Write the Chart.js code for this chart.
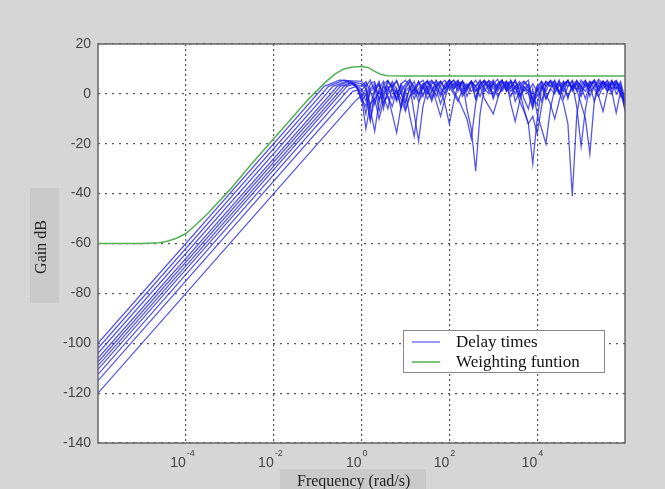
<!DOCTYPE html>
<html>
<head>
<meta charset="utf-8">
<script src="https://cdn.jsdelivr.net/npm/chart.js@4.4.1/dist/chart.umd.min.js"></script>
<style>
  body { margin: 0; background: #d6d6d6; }
  canvas { display: block; }
</style>
</head>
<body>
<canvas id="gainChart" width="665" height="489"></canvas>
<script>
// x values are log10 of the frequency (rad/s), y values are gain in dB
var xTicks = [-4, -2, 0, 2, 4];
var yTicks = [20, 0, -20, -40, -60, -80, -100, -120, -140];

// weighting function
var weightX = [-6, -5, -4.6, -4.4, -4.2, -4.0, -3.8, -3.5, -3.0, -2.5, -2.0, -1.5, -1.2, -1.0, -0.8, -0.6, -0.4, -0.2, 0, 0.15, 0.3, 0.45, 0.6, 1.0, 6.0];
var weightY = [-60, -60, -59.7, -59, -57.8, -56, -53, -48, -38.5, -28, -18, -8, -2, 1.5, 5, 8, 10, 10.8, 11, 10.6, 9, 7.8, 7.3, 7.2, 7.2];

// delay time responses: value at 10^-6, knee points, then the ripple part
var delayStart = [-100, -102, -104, -106, -107.5, -109, -110.5, -112.5, -115, -120];
var delayKneeX = [[-0.85, -0.5], [-0.75, -0.4], [-0.65, -0.35], [-0.55, -0.3], [-0.48, -0.25],
                  [-0.4, -0.2], [-0.33, -0.15], [-0.28, -0.12], [-0.2, -0.08], [-0.15, -0.05]];
var delayKneeY = [[3, 5.5], [3, 5.5], [3, 5], [3, 5], [3, 4.5],
                  [3, 4.5], [3, 4], [2, 3], [1, 1.5], [-3, -1.5]];

var hiX = [0, 0.1, 0.2, 0.3, 0.4, 0.5, 0.6, 0.7, 0.8, 0.9,
           1, 1.1, 1.2, 1.3, 1.4, 1.5, 1.6, 1.7, 1.8, 1.9,
           2, 2.1, 2.2, 2.3, 2.4, 2.5, 2.6, 2.7, 2.8, 2.9,
           3, 3.1, 3.2, 3.3, 3.4, 3.5, 3.6, 3.7, 3.8, 3.9,
           4, 4.1, 4.2, 4.3, 4.4, 4.5, 4.6, 4.7, 4.8, 4.9,
           5, 5.1, 5.2, 5.3, 5.4, 5.5, 5.6, 5.7, 5.8, 5.9, 6];

var delayHi = [
  [5,3,5.5,1,4,-2,5,2.5,5.5,1, 4,5.8,2,5,-1,4,5.5,3,5,2, 5.5,4,1,5,-6,-14,-31,-8,3,5.5,
   4,5.8,2,5,3,5.5,1,4,5.5,-4, 2,5,3,5.5,4,0,5,3,5.5,2, 4,5.5,-1,3,5.8,4,1,5,2,4, -7],
  [4,2,-6,-15,-3,4,5.5,2,-2,4, 5.5,3,0,5,2,5.5,3,-1,4,5.5, 2,4,5.5,1,3,5,-2,4,5.5,3,
   0,4,5.5,2,5,-3,1,-6,-12,-28, -10,2,5,3,5.5,1,4,5.5,2,5, 3,-2,4,5.5,1,5,3,5.5,0,3, -5],
  [3,5,1,-4,2,5,-1,-8,-15.6,-5, 3,5,1,4,5.5,2,-3,3,5,2, 5.5,3,5,-1,2,5,3,5.5,1,4,
   -2,3,5.5,2,5,3,-3,-7,-12,-9, -16,-5,3,5,2,5.5,-2,3,5,1, 5.5,3,4,-3,2,5,4,0,5,3, -3],
  [2,-3,4,5,-2,1,5,3,-2,4, 1,-9,-17,-4,3,5,1,5.5,3,0, 4,5.5,2,5,-1,3,5.5,2,4,5,
   -1,3,5,1,5.5,2,4,-2,-6,2, -8,-14,-20,-6,2,5,3,5.5,1,4, -1,5,3,5.5,1,4,5,2,5,-1, -2],
  [1,4,-5,2,5,-1,-6,3,5,0, -4,3,-8,-19,-5,2,5,3,-1,4, 5.5,2,5,3,1,5,-2,4,5,3,
   5.5,1,4,5,2,5.5,-1,3,1,-5, 3,5,0,-4,-10,-3,4,5,2,5.5, 3,1,5,4,-1,3,5.5,2,4,1, -4],
  [0,-8,2,4,-3,3,1,5,2,-5, 2,5,3,0,4,5,2,-3,-9,-2, 4,5.5,3,5,2,5,3,-1,4,5,
   2,4,5.5,1,3,5,2,5,3,-3, -1,2,5,3,5,1,-4,-12,-41,-9, 3,5,2,5.5,3,5,1,4,5.5,2, -3],
  [-1,2,-10,1,4,-6,2,4,0,3, -3,2,5,-1,3,0,4,5,2,-4, -12,-3,4,5,3,5,1,4,5.5,2,
   5,3,1,4,5,0,4,5,2,-2, 3,-3,4,5,1,3,5,-2,4,-5, -21,-6,3,5,2,5,3,4,5,1, -4],
  [-2,-5,1,3,-7,0,3,-2,2,-6, 1,3,-2,2,4,1,-2,3,5,2, 4,1,-2,-6,-10,-18,-4,3,5,1,
   4,2,5,3,-1,3,5,1,4,-2, -4,3,1,5,3,4,1,5,3,2, -4,-10,-24,-3,4,5,2,5,3,0, -6],
  [-3,0,-11,-2,1,-4,0,2,-3,1, -6,-1,2,0,3,-2,1,4,0,3, 5,2,4,0,3,5,1,3,-2,-5,
   -8,-2,3,5,-4,-11,-3,3,1,4, 1,4,-2,2,4,0,3,5,2,4, 1,3,5,2,-1,-7,1,4,2,5, -2],
  [-1,-14,-4,-2,-10,-3,-1,-5,1,-2, -7,-1,2,-3,0,3,-1,2,-4,1, 3,0,-3,2,4,1,3,5,2,0,
   4,-1,2,4,1,3,-1,2,0,-6, 1,3,-2,2,0,4,2,-1,3,5, 2,4,1,3,5,2,4,1,-7.6,1, -4]
];

var blue = 'rgba(30,30,230,0.75)';
var green = 'rgb(85,175,85)';

var datasets = [{
  label: 'Weighting funtion',
  data: weightX.map(function (x, i) { return { x: x, y: weightY[i] }; }),
  borderColor: green,
  borderWidth: 1.5
}];

delayStart.forEach(function (s, k) {
  var pts = [{ x: -6, y: s }];
  delayKneeX[k].forEach(function (kx, j) { pts.push({ x: kx, y: delayKneeY[k][j] }); });
  hiX.forEach(function (x, i) { pts.push({ x: x, y: delayHi[k][i] }); });
  datasets.push({
    label: 'Delay times',
    data: pts,
    borderColor: blue,
    borderWidth: 1.3
  });
});

var decor = {
  id: 'decor',
  beforeDraw: function (chart) {
    var c = chart.ctx, a = chart.chartArea;
    c.save();
    c.fillStyle = '#d6d6d6';
    c.fillRect(0, 0, chart.width, chart.height);
    c.fillStyle = '#c9c9c9';
    c.fillRect(30, 188, 29, 115);
    c.fillRect(280, 469, 146, 20);
    c.fillStyle = '#ffffff';
    c.fillRect(a.left, a.top, a.right - a.left, a.bottom - a.top);
    c.restore();
  },
  afterDraw: function (chart) {
    var c = chart.ctx, a = chart.chartArea, sx = chart.scales.x;
    c.save();
    // box round the plot
    c.strokeStyle = '#666';
    c.lineWidth = 1.5;
    c.strokeRect(a.left, a.top, a.right - a.left, a.bottom - a.top);

    // x tick labels 10^n
    c.fillStyle = '#444';
    xTicks.forEach(function (v) {
      var px = sx.getPixelForValue(v);
      c.font = '14px "Liberation Sans", Arial, sans-serif';
      c.textAlign = 'right';
      c.textBaseline = 'alphabetic';
      c.fillText('10', px, 467);
      c.font = '9px "Liberation Sans", Arial, sans-serif';
      c.textAlign = 'left';
      c.fillText(String(v), px + 1, 456);
    });

    // axis titles
    c.fillStyle = '#222';
    c.font = '16px "Liberation Serif", "Times New Roman", serif';
    c.textAlign = 'left';
    c.textBaseline = 'alphabetic';
    c.fillText('Frequency (rad/s)', 297, 486);
    c.save();
    c.translate(46, 247);
    c.rotate(-Math.PI / 2);
    c.textAlign = 'center';
    c.fillText('Gain dB', 0, 0);
    c.restore();

    // legend
    c.fillStyle = '#ffffff';
    c.fillRect(403, 330, 202, 43);
    c.strokeStyle = '#888';
    c.lineWidth = 1;
    c.strokeRect(403.5, 330.5, 201, 42);
    c.lineWidth = 1.5;
    c.strokeStyle = 'rgb(120,120,245)';
    c.beginPath(); c.moveTo(412, 342); c.lineTo(440, 342); c.stroke();
    c.strokeStyle = green;
    c.beginPath(); c.moveTo(412, 362); c.lineTo(440, 362); c.stroke();
    c.fillStyle = '#111';
    c.font = '17px "Liberation Serif", "Times New Roman", serif';
    c.fillText('Delay times', 456, 347);
    c.fillText('Weighting funtion', 456, 367);
    c.restore();
  }
};

var ctx = document.getElementById('gainChart');
var gainChart = new Chart(ctx, {
  type: 'line',
  data: { datasets: datasets },
  options: {
    responsive: false,
    animation: false,
    devicePixelRatio: 1,
    layout: { padding: { left: 0, top: 44, right: 40, bottom: 46 } },
    elements: { point: { radius: 0 }, line: { tension: 0 } },
    plugins: { legend: { display: false }, tooltip: { enabled: false } },
    scales: {
      x: {
        type: 'linear',
        min: -6,
        max: 6,
        ticks: { display: false, stepSize: 2 },
        afterBuildTicks: function (scale) {
          scale.ticks = xTicks.map(function (v) { return { value: v }; });
        },
        grid: { color: '#555', lineWidth: 1.2, drawTicks: false },
        border: { display: false, dash: [2, 3] }
      },
      y: {
        min: -140,
        max: 20,
        afterBuildTicks: function (scale) {
          scale.ticks = yTicks.map(function (v) { return { value: v }; });
        },
        afterFit: function (scale) { scale.width = 98; },
        ticks: {
          color: '#444',
          padding: 7,
          font: { family: '"Liberation Sans", Arial, sans-serif', size: 14 }
        },
        grid: { color: '#555', lineWidth: 1.2, drawTicks: false },
        border: { display: false, dash: [2, 5] }
      }
    }
  },
  plugins: [decor]
});
</script>
</body>
</html>
